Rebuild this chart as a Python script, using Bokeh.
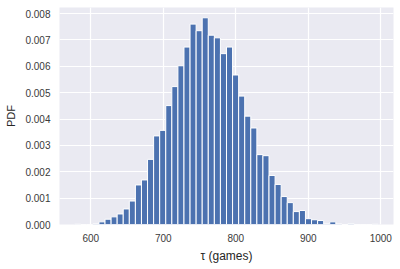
import numpy as np
from bokeh.plotting import figure
from bokeh.models import FixedTicker, PrintfTickFormatter, Range1d
from bokeh.embed import file_html
from bokeh.resources import INLINE

# Histogram data (PDF), 50 bins
bin_start = 577.7
bin_end = 996.6
n_bins = 50
pdf = [0.00001, 0.0, 0.0, 0.00002, 0.0001, 0.0002, 0.00029, 0.0004, 0.00059, 0.00089,
       0.0015, 0.00169, 0.00247, 0.00336, 0.00357, 0.00451, 0.00523, 0.00602, 0.00673, 0.0076,
       0.00735, 0.00784, 0.00718, 0.00708, 0.00648, 0.00673, 0.00567, 0.00487, 0.00411, 0.00366,
       0.00265, 0.00261, 0.00186, 0.00152, 0.00106, 0.00083, 0.00049, 0.00053, 0.00022, 0.00018,
       0.00015, 0.00002, 0.0001, 0.00002, 0.0, 0.00003, 0.0, 0.0, 0.0, 0.00001]
x_ticks = [600, 700, 800, 900, 1000]
y_ticks = [0.000, 0.001, 0.002, 0.003, 0.004, 0.005, 0.006, 0.007, 0.008]
x_label = "τ (games)"
y_label = "PDF"

edges = np.linspace(bin_start, bin_end, n_bins + 1)

p = figure(width=400, height=269, output_backend="svg", toolbar_location=None,
           x_range=Range1d(556.8, 1017.5), y_range=Range1d(0, 0.00823))
p.min_border_left = 59
p.min_border_right = 7
p.min_border_top = 7
p.min_border_bottom = 45
p.background_fill_color = "#EAEAF2"
p.border_fill_color = "white"
p.outline_line_color = None

p.quad(left=edges[:-1], right=edges[1:], bottom=0, top=pdf,
       fill_color="#4C72B0", line_color="white", line_width=1)

p.xgrid.grid_line_color = "white"
p.ygrid.grid_line_color = "white"
p.xgrid.grid_line_width = 1.2
p.ygrid.grid_line_width = 1.2

p.xaxis.ticker = FixedTicker(ticks=x_ticks)
p.yaxis.ticker = FixedTicker(ticks=y_ticks)
p.yaxis.formatter = PrintfTickFormatter(format="%.3f")

for ax in (p.xaxis[0], p.yaxis[0]):
    ax.axis_line_color = None
    ax.major_tick_line_color = None
    ax.minor_tick_line_color = None
    ax.major_tick_in = 0
    ax.major_tick_out = 0
    ax.major_label_text_font = "Liberation Sans"
    ax.major_label_text_font_size = "10px"
    ax.major_label_text_color = "#3a3a3a"
    ax.axis_label_text_font = "Liberation Sans"
    ax.axis_label_text_font_style = "normal"
    ax.axis_label_text_color = "#262626"
    ax.major_label_standoff = 9

p.xaxis.axis_label = x_label
p.yaxis.axis_label = y_label
p.xaxis.axis_label_text_font_size = "12px"
p.yaxis.axis_label_text_font_size = "11px"
p.xaxis.axis_label_standoff = 4
p.yaxis.axis_label_standoff = 5

open("out.html", "w").write(file_html(p, INLINE))
